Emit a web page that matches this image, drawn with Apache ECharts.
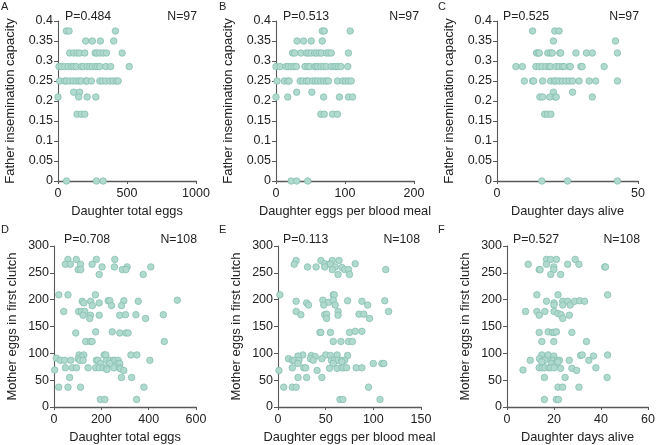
<!DOCTYPE html>
<html><head><meta charset="utf-8">
<script src="https://cdn.jsdelivr.net/npm/echarts@6/dist/echarts.min.js"></script>
<style>html,body{margin:0;padding:0;background:#fff}#c{width:658px;height:445px}</style>
</head><body><div id="c"></div>
<script>
// Panel A: Daughter total eggs vs Father insemination capacity
const xA = [61,80,416, 201,249,307,404, 85,114,138,157,194,269,283,303,327,351,465,
  7,24,48,73,97,114,133,169,182,211,230,249,271,286,303,346,382,516,
  12,48,61,85,109,133,153,169,201,211,242,303,322,346,375,399,423,436,
  114,157, 0,150,211,274, 138,169,194, 61,278,327];
const yA = [0.375,0.375,0.375, 0.35,0.35,0.35,0.35, 0.32,0.32,0.32,0.32,0.32,0.32,0.32,0.32,0.32,0.32,0.32,
  0.286,0.286,0.286,0.286,0.286,0.286,0.286,0.286,0.286,0.286,0.286,0.286,0.286,0.286,0.286,0.286,0.286,0.286,
  0.25,0.25,0.25,0.25,0.25,0.25,0.25,0.25,0.25,0.25,0.25,0.25,0.25,0.25,0.25,0.25,0.25,0.25,
  0.222,0.222, 0.21,0.21,0.21,0.21, 0.167,0.167,0.167, 0,0,0];
// Panel B: Daughter eggs per blood meal vs Father insemination capacity
const xB = [67,70,107.5, 30.5,40,51,67, 24,27,36,44,47,51,56,59,63,66,73,76.5,80,105,
  0,6,14.5,18,22,26,29.5,42,46,49,56,58,60.5,65,69,73,80,84,87,90.5,94,104,
  1.5,12,17,19,35,39,44,47,53,57,60.5,65,69,73,76,89,97,101,105,109,
  30,52, 0,17,69,92,105,111, 65,70,82,89, 22,30,46];
const yB = [0.375,0.375,0.375, 0.35,0.35,0.35,0.35, 0.32,0.32,0.32,0.32,0.32,0.32,0.32,0.32,0.32,0.32,0.32,0.32,0.32,0.32,
  0.286,0.286,0.286,0.286,0.286,0.286,0.286,0.286,0.286,0.286,0.286,0.286,0.286,0.286,0.286,0.286,0.286,0.286,0.286,0.286,0.286,0.286,
  0.25,0.25,0.25,0.25,0.25,0.25,0.25,0.25,0.25,0.25,0.25,0.25,0.25,0.25,0.25,0.25,0.25,0.25,0.25,0.25,
  0.222,0.222, 0.21,0.21,0.21,0.21,0.21,0.21, 0.167,0.167,0.167,0.167, 0,0,0];
// Panel C: Daughter days alive vs Father insemination capacity
const xC = [12.6,20.5,22, 20,42, 14,14.6,15,18,19,19.6,22.3,22.6,28,31.7,33.8,42.7,
  6.7,9,13.8,15,16,17.3,18.5,19,20.9,22,23.2,23.8,25.6,26,29.7,30.2,38,
  9.7,12.6,13,16.2,19,20.3,20.9,22,23.2,24.4,25.6,26.8,29.1,32.7,35,42.7,
  20,26.8, 15.2,16.2,18.7,20.6,21,33.8, 16.9,17.9,19.1, 15.9,25,42.7];
const yC = [0.375,0.375,0.375, 0.35,0.35, 0.32,0.32,0.32,0.32,0.32,0.32,0.32,0.32,0.32,0.32,0.32,0.32,
  0.286,0.286,0.286,0.286,0.286,0.286,0.286,0.286,0.286,0.286,0.286,0.286,0.286,0.286,0.286,0.286,0.286,
  0.25,0.25,0.25,0.25,0.25,0.25,0.25,0.25,0.25,0.25,0.25,0.25,0.25,0.25,0.25,0.25,
  0.222,0.222, 0.21,0.21,0.21,0.21,0.21,0.21, 0.167,0.167,0.167, 0,0,0];
// Panel D: Daughter total eggs vs Mother eggs in first clutch
const xD = [59,94,179,257, 48,69,112,161, 203,255,309,409, 102,113,289,304, 191,377,
  20,59,175, 119,155,229,236,295,356,521, 126,191,162,243,285,
  41,104,116,130, 123,154,191,278,302,346,462, 151,387,
  176,246,278,304,313, 92, 134,154,161,466,
  106,126,212,219,325,350, 116, 10,102,
  27,45,71,109,123,179,186,222,236,250,257,271,405,
  196,236,271,278,
  48,78,95,144,176,191,208,222,253,278,281,
  3,224,295, 66,285,328, 20,59,112,380, 196,215,349];
const yD = [275,275,275,275, 266,266,266,266, 261,261,261,261, 256,256,256,256, 247,247,
  209,209,209, 197,197,198,198,198,197,199, 194,194,189,189,189,
  178,178,178,178, 171,171,171,171,172,172,172, 165,165,
  140,140,138,138,138, 138, 122,122,122,122,
  97,97,97,97,97,97, 93, 91,90,
  87,87,87,87,87,87,87,87,87,87,87,87,87,
  81,81,81,81,
  73,73,73,73,73,73,73,73,73,73,71,
  69,70,68, 55,55,55, 37,37,37,37, 14,14,14];
// Panel E: Daughter eggs per blood meal vs Mother eggs in first clutch
const xE = [19,45,57,64, 17,49,54,55, 31,40,49,60,67,81,113, 57,70,74, 63,75,
  2,58,59, 19,47,53,58,73,88,112,30,32,48,60,94,
  19,63,116, 24,49,51,63,85,90,96,51,
  44,45,55,75,81,88, 58,66,74,78,
  26,35,39,50,55,62,73,11,21,34,
  15,17,22,37,46,56,59,63,67,70,
  21,58,67,100,109,111,
  15,27,29,54,62,67,69,72,82,88,
  1,41, 21,30,46, 6,15,19,95, 65,68,107];
const yE = [273,273,273,273, 266,267,266,266, 261,261,261,261,260,267,256, 256,256,256, 247,247,
  209,209,209, 197,199,195,199,198,197,198,194,190,190,190,190,
  178,178,178, 172,172,173,171,173,173,165,165,
  139,139,139,139,141,141, 122,122,122,122,
  97,96,94,97,96,97,96,90,95,90,
  87,87,87,87,90,87,87,87,87,87,
  81,81,84,81,81,81,
  73,73,73,72,72,73,73,73,73,73,
  68,68, 55,55,55, 37,37,37,37, 14,14,14];
// Panel F: Daughter days alive vs Mother eggs in first clutch
const xF = [16.8,18.6,21,29, 9,16.8,30.6, 19.9,25.8,19.9,13.7,14.1,41.6,41.9, 18.6,22.8,
  12.7,21.7,42.8, 16.8,20,20,23.7,23.7,25.8,26.9,28.8,30.9,33,
  7.9,12.7,16.1,20,21.7,23,23.7,13.7,26.5,
  13.7,17.5,19.3,20,21,27.6, 14.8,19.9,33.8,
  14.8,17.5,19.9,31.3,32,36.8,42.8,
  9.9,13.8,15.4,16.1,19,19.6,21.4,22.3,26.5,34.8,14.8,
  19,21,21.7,
  13.7,15,16.1,17.8,18.6,20,22.8,27.6,29.6,37.8, 6.8,
  15.9,24.7,42.6, 21.7,23.7,30.6, 15.9,21,21.9];
const yF = [275,275,275,275, 266,266,266, 261,266,256,256,256,261,261, 247,247,
  209,209,209, 197,194,190,197,190,197,190,197,198,197,
  178,178,178,178,174,172,165,171,171,
  139,140,139,139,140,139, 122,122,122,
  97,97,95,96,97,95,97,
  87,90,87,87,87,87,87,87,87,87,84,
  81,81,84,
  73,73,73,73,73,73,72,72,68,73, 69,
  55,55,55, 37,37,37, 14,14,14];

const pLabels = ['P=0.484','P=0.513','P=0.525','P=0.708','P=0.113','P=0.527'];
const nLabels = ['N=97','N=97','N=97','N=108','N=108','N=108'];
const panelLetters = ['A','B','C','D','E','F'];
const xNames = ['Daughter total eggs','Daughter eggs per blood meal','Daughter days alive',
  'Daughter total eggs','Daughter eggs per blood meal','Daughter days alive'];
const yNames = ['Father insemination capacity','Father insemination capacity','Father insemination capacity',
  'Mother eggs in first clutch','Mother eggs in first clutch','Mother eggs in first clutch'];
const xMax = [1000,200,50,600,150,60];
const xInterval = [500,100,50,200,50,20];
const yMax = [0.4,0.4,0.4,300,300,300];
const yInterval = [0.05,0.05,0.05,50,50,50];
const xsAll = [xA,xB,xC,xD,xE,xF];
const ysAll = [yA,yB,yC,yD,yE,yF];

// layout
const grids = [
  {left:58,top:21,width:138,height:160},
  {left:276,top:21,width:138,height:160},
  {left:497,top:21,width:141,height:160},
  {left:54,top:246,width:142,height:161},
  {left:278,top:246,width:143,height:161},
  {left:507,top:246,width:145,height:161}
];
const yNameGap = [41,41,41,35,35,35];
const pPos = [[65,17],[283,17],[503,17],[64,240],[283,240],[513,240]];
const nPos = [[197,17],[419,17],[639,17],[197,240],[420,240],[640,240]];
const letterPos = [[1,7],[219,7],[438,7],[1,230],[219,230],[438,230]];

const txt = '#222222';
const axisCol = '#595959';
const font = 'Liberation Sans, Arial, sans-serif';
const option = {
  animation:false,
  textStyle:{fontFamily:font},
  grid: grids,
  xAxis: grids.map((g,i)=>({
    gridIndex:i, type:'value', min:0, max:xMax[i], interval:xInterval[i],
    name:xNames[i], nameLocation:'middle', nameGap:24,
    nameTextStyle:{fontSize:12.8,color:txt,fontFamily:font},
    axisLine:{show:true,onZero:false,lineStyle:{color:axisCol,width:1.3}},
    axisTick:{show:true,length:3,lineStyle:{color:axisCol}},
    axisLabel:{fontSize:12.5,color:txt,margin:6,fontFamily:font,formatter:v=>String(v)},
    splitLine:{show:false}
  })),
  yAxis: grids.map((g,i)=>({
    gridIndex:i, type:'value', min:0, max:yMax[i], interval:yInterval[i],
    name:yNames[i], nameLocation:'middle', nameGap:yNameGap[i],
    nameTextStyle:{fontSize:13,color:txt,fontFamily:font},
    axisLine:{show:true,lineStyle:{color:axisCol,width:1.1}},
    axisTick:{show:true,length:4,lineStyle:{color:axisCol}},
    axisLabel:{fontSize:12.5,color:txt,margin:5,fontFamily:font,formatter:v=>String(v)},
    splitLine:{show:false}
  })),
  series: xsAll.map((xs,i)=>({
    type:'scatter', xAxisIndex:i, yAxisIndex:i, symbolSize:6.5,
    itemStyle:{color:'#b0dace',borderColor:'#86bfb1',borderWidth:0.8,opacity:1},
    data: xs.map((x,j)=>[x, ysAll[i][j]])
  })),
  graphic: [].concat(
    pLabels.map((t,i)=>({type:'text',x:pPos[i][0],y:pPos[i][1],
      style:{text:t,fontSize:12.3,fill:txt,fontFamily:font,verticalAlign:'middle'}})),
    nLabels.map((t,i)=>({type:'text',x:nPos[i][0],y:nPos[i][1],
      style:{text:t,fontSize:12.3,fill:txt,fontFamily:font,align:'right',verticalAlign:'middle'}})),
    panelLetters.map((t,i)=>({type:'text',x:letterPos[i][0],y:letterPos[i][1],
      style:{text:t,fontSize:11,fill:txt,fontFamily:font,verticalAlign:'middle'}}))
  )
};
echarts.init(document.getElementById('c'),null,{renderer:'canvas'}).setOption(option);
</script></body></html>
